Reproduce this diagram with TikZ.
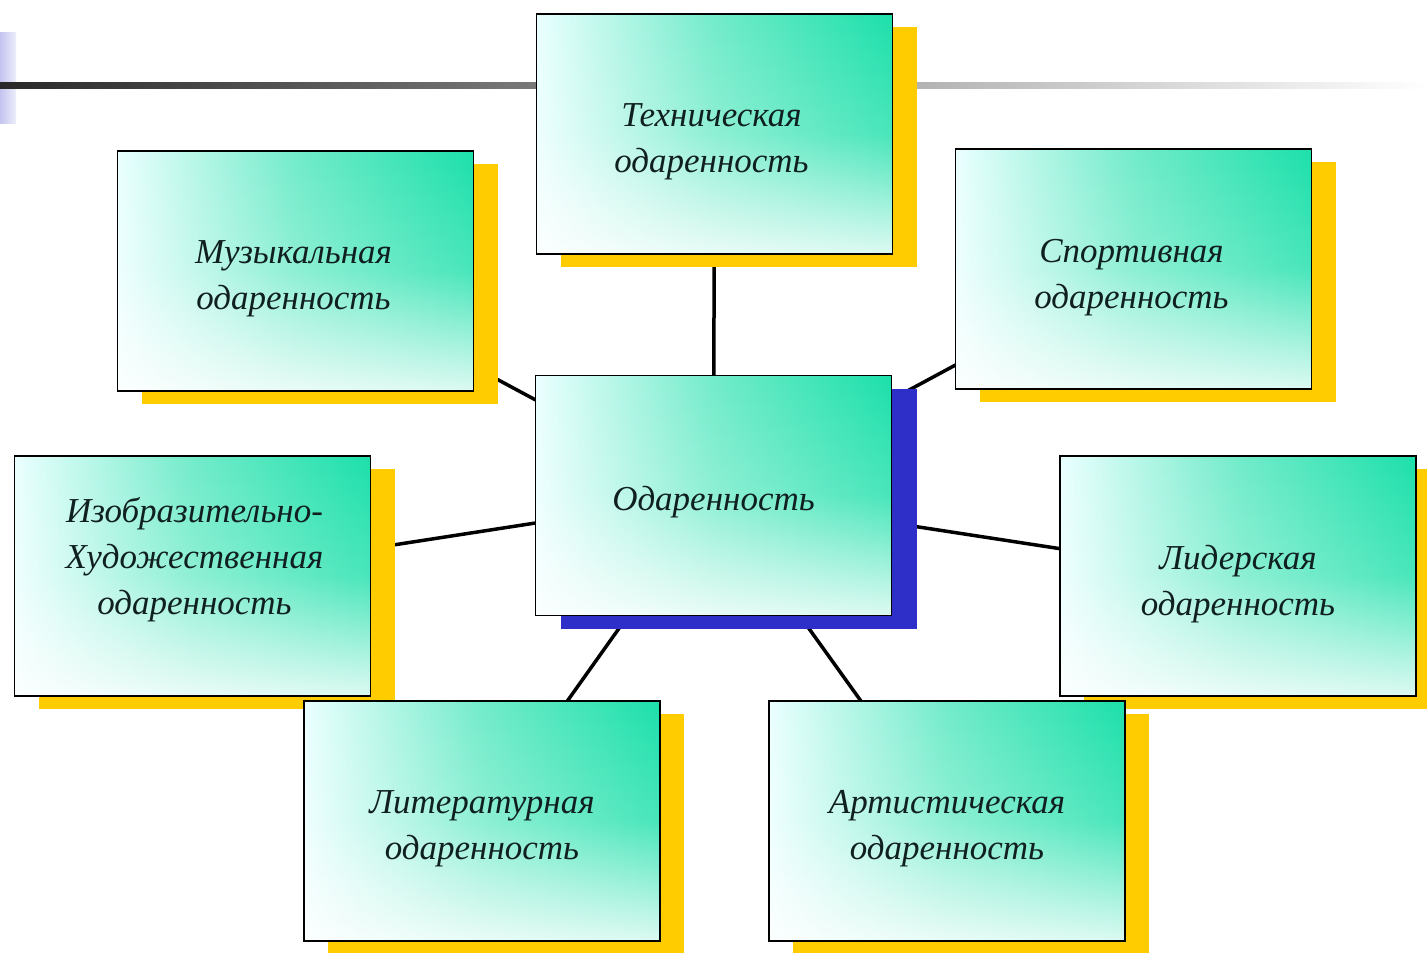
\documentclass[tikz,border=0pt]{standalone}
\usepackage{fontspec}
\setmainfont{Liberation Serif}
\usetikzlibrary{shadows,fadings}
\pgfdeclarelayer{background}
\pgfsetlayers{background,main}
\definecolor{boxgreen}{RGB}{28,224,170}
\definecolor{shyellow}{RGB}{255,204,0}
\definecolor{shblue}{RGB}{46,46,200}
\definecolor{txtcol}{RGB}{16,32,32}
\definecolor{lav}{RGB}{196,196,240}
\tikzfading[name=vfade, top color=transparent!100, bottom color=transparent!15, middle color=transparent!80]
\tikzset{
  gbox/.style={draw=black, line width=1.5pt, fill=white,
    minimum width=356pt, minimum height=240pt, inner sep=0pt,
    path picture={
      \shade[left color=white!92!cyan, right color=boxgreen, middle color=boxgreen!62!white]
        (path picture bounding box.south west) rectangle (path picture bounding box.north east);
      \fill[white, path fading=vfade]
        (path picture bounding box.south west) rectangle (path picture bounding box.north east);
    }},
  btext/.style={align=center, text=txtcol, inner sep=0pt, font=\fontsize{35}{46}\selectfont\itshape},
  yshadow/.style={drop shadow={shadow xshift=24pt, shadow yshift=-13pt, fill=shyellow, opacity=1}},
  bshadow/.style={drop shadow={shadow xshift=25pt, shadow yshift=-13pt, fill=shblue, opacity=1}},
  link/.style={draw=black, line width=3.5pt}
}
\begin{document}
\begin{tikzpicture}[x=1pt,y=1pt]
\useasboundingbox (0,0) rectangle (1427,-953);
% header decoration
\shade[left color=lav, right color=lav!30] (0,-32) rectangle (16,-123);
\shade[left color=black!84, right color=white] (0,-82) rectangle (1427,-88.5);
% boxes
\node[gbox, yshadow] (tech)  at (714.5,-134)  {};
\node[gbox, yshadow] (mus)   at (295.5,-271)  {};
\node[gbox, yshadow] (sport) at (1133.5,-269) {};
\node[gbox, bshadow] (core)  at (713.5,-495.5) {};
\node[gbox, yshadow] (izo)   at (192.5,-576)  {};
\node[gbox, yshadow] (lid)   at (1238,-576)   {};
\node[gbox, yshadow] (lit)   at (482,-821)    {};
\node[gbox, yshadow] (art)   at (947,-821)    {};
% texts
\node[btext] (tech-t)  at ([xshift=-3pt,yshift=-8pt]tech.center)  {Техническая\\одаренность};
\node[btext] (mus-t)   at ([xshift=-2pt,yshift=-8pt]mus.center)   {Музыкальная\\одаренность};
\node[btext] (sport-t) at ([xshift=-2pt,yshift=-9pt]sport.center) {Спортивная\\одаренность};
\node[btext] (core-t)  at ([yshift=-7pt]core.center)  {Одаренность};
\node[btext] (izo-t)   at ([xshift=2pt,yshift=16pt]izo.center)   {Изобразительно-\\Художественная\\одаренность};
\node[btext] (lid-t)   at ([yshift=-8pt]lid.center)   {Лидерская\\одаренность};
\node[btext] (lit-t)   at ([yshift=-8pt]lit.center)   {Литературная\\одаренность};
\node[btext] (art-t)   at ([yshift=-8pt]art.center)   {Артистическая\\одаренность};
\begin{pgfonlayer}{background}
\foreach \n in {tech,mus,sport,izo,lid,lit,art}
  \draw[link] (core.center) -- (\n.center);
\end{pgfonlayer}
\end{tikzpicture}
\end{document}
